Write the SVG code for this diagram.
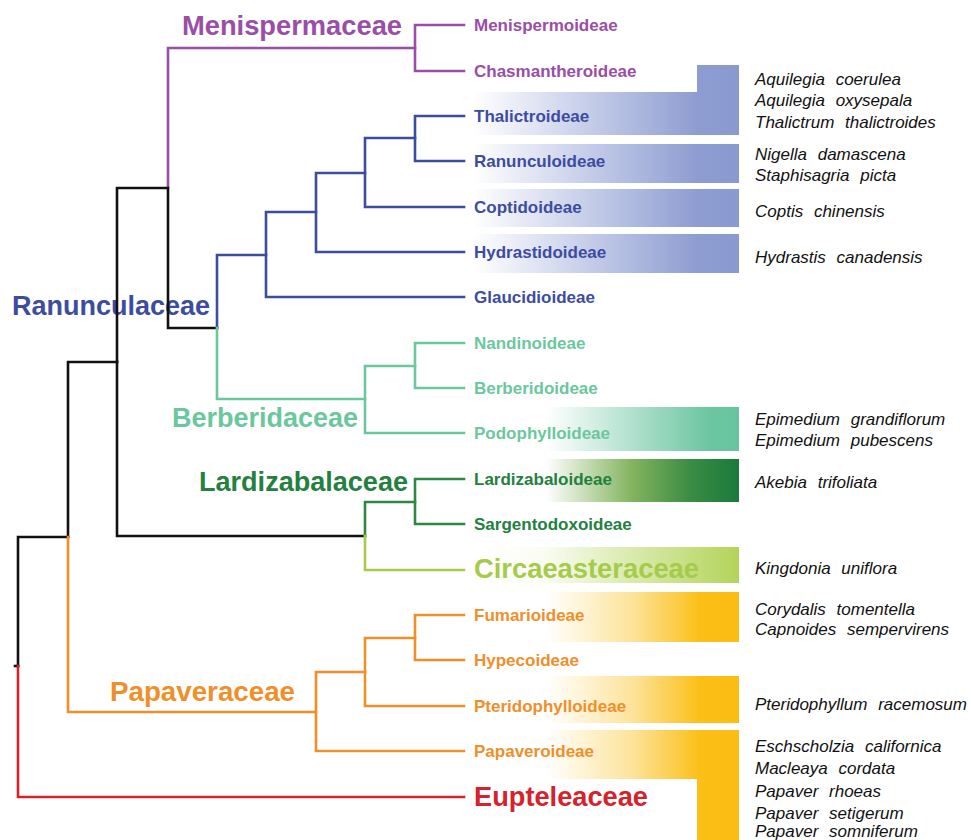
<svg xmlns="http://www.w3.org/2000/svg" width="971" height="840" viewBox="0 0 971 840">
<defs>
<linearGradient id="gBlue" gradientUnits="userSpaceOnUse" x1="474" y1="0" x2="739" y2="0">
<stop offset="0" stop-color="#ffffff"/><stop offset="0.5" stop-color="#bcc5e5"/><stop offset="0.85" stop-color="#8d9cd1"/><stop offset="1" stop-color="#8a99cf"/>
</linearGradient>
<linearGradient id="gPodo" gradientUnits="userSpaceOnUse" x1="546" y1="0" x2="739" y2="0">
<stop offset="0" stop-color="#ffffff"/><stop offset="0.85" stop-color="#6bc5a1"/><stop offset="1" stop-color="#68c4a0"/>
</linearGradient>
<linearGradient id="gLard" gradientUnits="userSpaceOnUse" x1="546" y1="0" x2="739" y2="0">
<stop offset="0" stop-color="#ffffff"/><stop offset="0.45" stop-color="#82b35e"/><stop offset="0.75" stop-color="#3a8c44"/><stop offset="1" stop-color="#1a7a3b"/>
</linearGradient>
<linearGradient id="gCirc" gradientUnits="userSpaceOnUse" x1="474" y1="0" x2="739" y2="0">
<stop offset="0" stop-color="#ffffff"/><stop offset="0.25" stop-color="#fbfdf4"/><stop offset="1" stop-color="#b3d45a"/>
</linearGradient>
<linearGradient id="gOrange" gradientUnits="userSpaceOnUse" x1="546" y1="0" x2="739" y2="0">
<stop offset="0" stop-color="#ffffff"/><stop offset="0.45" stop-color="#fde39a"/><stop offset="0.8" stop-color="#fbbf16"/><stop offset="1" stop-color="#fbbd12"/>
</linearGradient>
</defs>
<style>
.fam{font-family:"Liberation Sans",Arial,sans-serif;font-weight:bold;font-size:27px}
.sub{font-family:"Liberation Sans",Arial,sans-serif;font-weight:bold;font-size:17px}
.sp{font-family:"Liberation Sans",Arial,sans-serif;font-style:italic;font-size:17px;fill:#111;word-spacing:6px}
.ln{fill:none;stroke-width:2.6;stroke-linejoin:miter;stroke-linecap:square}
.pur{fill:#9a4ea5}.blu{fill:#3c4da0}.lgr{fill:#6bc79e}.dgr{fill:#23803f}.ygr{fill:#a6cb4c}.ora{fill:#f08f2a}.red{fill:#d4232c}
</style>
<g id="boxes">
<path d="M474,92 H697 V65 H739 V135 H474 Z" fill="url(#gBlue)"/>
<rect x="474" y="144" width="265" height="39" fill="url(#gBlue)"/>
<rect x="474" y="189" width="265" height="38" fill="url(#gBlue)"/>
<rect x="474" y="234" width="265" height="39" fill="url(#gBlue)"/>
<rect x="546" y="407" width="193" height="44" fill="url(#gPodo)"/>
<rect x="546" y="459" width="193" height="43" fill="url(#gLard)"/>
<rect x="474" y="547" width="265" height="36" fill="url(#gCirc)"/>
<rect x="546" y="592" width="193" height="50" fill="url(#gOrange)"/>
<rect x="546" y="676" width="193" height="47" fill="url(#gOrange)"/>
<path d="M546,730 H739 V840 H697 V779 H546 Z" fill="url(#gOrange)"/>
</g>
<g id="family-labels">
<text id="Menispermaceae" class="fam pur" x="182" y="35" textLength="220" lengthAdjust="spacingAndGlyphs">Menispermaceae</text>
<text id="Ranunculaceae" class="fam blu" x="12" y="315" textLength="198" lengthAdjust="spacingAndGlyphs">Ranunculaceae</text>
<text id="Berberidaceae" class="fam lgr" x="172" y="427" textLength="186" lengthAdjust="spacingAndGlyphs">Berberidaceae</text>
<text id="Lardizabalaceae" class="fam dgr" x="199" y="491" textLength="209" lengthAdjust="spacingAndGlyphs">Lardizabalaceae</text>
<text id="Papaveraceae" class="fam ora" x="110" y="701" textLength="185" lengthAdjust="spacingAndGlyphs">Papaveraceae</text>
</g>
<g id="connectors">
<g class="ln" stroke="#9a4ea5">
<path d="M168,188 V48 H415"/>
<path d="M464,25 H415 V71 H464"/>
</g>
<g class="ln" stroke="#111">
<path d="M117,362 V188 H168 V328 H217"/>
<path d="M117,362 V536 H365"/>
<path d="M68,537 V362 H117"/>
<path d="M18,666 V537 H68"/>
<path d="M15,666 H18"/>
</g>
<g class="ln" stroke="#3c4da0">
<path d="M217,328 V255 H266"/>
<path d="M464,297 H266 V212 H316"/>
<path d="M464,252 H316 V173 H365"/>
<path d="M464,207 H365 V138 H415"/>
<path d="M464,116 H415 V161 H464"/>
</g>
<g class="ln" stroke="#6bc79e">
<path d="M217,328 V399 H365"/>
<path d="M464,433 H365 V366 H415"/>
<path d="M464,343 H415 V388 H464"/>
</g>
<g class="ln" stroke="#2f8744">
<path d="M365,536 V502 H415"/>
<path d="M464,479 H415 V524 H464"/>
</g>
<g class="ln" stroke="#a6cb4c">
<path d="M365,536 V570 H464"/>
</g>
<g class="ln" stroke="#f08f2a">
<path d="M68,537 V712 H316"/>
<path d="M464,751 H316 V672 H365"/>
<path d="M464,706 H365 V638 H415"/>
<path d="M464,615 H415 V660 H464"/>
</g>
<g class="ln" stroke="#d4232c">
<path d="M18,666 V797 H464"/>
</g>
</g>
<g id="leaves">
<text id="Menispermoideae" class="sub pur" x="474" y="31">Menispermoideae</text>
<text id="Chasmantheroideae" class="sub pur" x="474" y="77">Chasmantheroideae</text>
<text id="Thalictroideae" class="sub blu" x="474" y="122">Thalictroideae</text>
<text id="Ranunculoideae" class="sub blu" x="474" y="167">Ranunculoideae</text>
<text id="Coptidoideae" class="sub blu" x="474" y="213">Coptidoideae</text>
<text id="Hydrastidoideae" class="sub blu" x="474" y="258">Hydrastidoideae</text>
<text id="Glaucidioideae" class="sub blu" x="474" y="303">Glaucidioideae</text>
<text id="Nandinoideae" class="sub lgr" x="474" y="349">Nandinoideae</text>
<text id="Berberidoideae" class="sub lgr" x="474" y="394">Berberidoideae</text>
<text id="Podophylloideae" class="sub lgr" x="474" y="439">Podophylloideae</text>
<text id="Lardizabaloideae" class="sub dgr" x="474" y="485">Lardizabaloideae</text>
<text id="Sargentodoxoideae" class="sub dgr" x="474" y="530">Sargentodoxoideae</text>
<text id="Circaeasteraceae" class="fam ygr" x="474" y="578" textLength="225" lengthAdjust="spacingAndGlyphs">Circaeasteraceae</text>
<text id="Fumarioideae" class="sub ora" x="474" y="621">Fumarioideae</text>
<text id="Hypecoideae" class="sub ora" x="474" y="666">Hypecoideae</text>
<text id="Pteridophylloideae" class="sub ora" x="474" y="712">Pteridophylloideae</text>
<text id="Papaveroideae" class="sub ora" x="474" y="757">Papaveroideae</text>
<text id="Eupteleaceae" class="fam red" x="474" y="806" textLength="174" lengthAdjust="spacingAndGlyphs">Eupteleaceae</text>
</g>
<g id="species">
<text class="sp" x="755" y="85">Aquilegia coerulea</text>
<text class="sp" x="755" y="106">Aquilegia oxysepala</text>
<text class="sp" x="755" y="128">Thalictrum thalictroides</text>
<text class="sp" x="755" y="160">Nigella damascena</text>
<text class="sp" x="755" y="181">Staphisagria picta</text>
<text class="sp" x="755" y="217">Coptis chinensis</text>
<text class="sp" x="755" y="263">Hydrastis canadensis</text>
<text class="sp" x="755" y="425">Epimedium grandiflorum</text>
<text class="sp" x="755" y="446">Epimedium pubescens</text>
<text class="sp" x="755" y="488">Akebia trifoliata</text>
<text class="sp" x="755" y="574">Kingdonia uniflora</text>
<text class="sp" x="755" y="615">Corydalis tomentella</text>
<text class="sp" x="755" y="635">Capnoides sempervirens</text>
<text class="sp" x="755" y="710">Pteridophyllum racemosum</text>
<text class="sp" x="755" y="752">Eschscholzia californica</text>
<text class="sp" x="755" y="774">Macleaya cordata</text>
<text class="sp" x="755" y="797">Papaver rhoeas</text>
<text class="sp" x="755" y="819">Papaver setigerum</text>
<text class="sp" x="755" y="837">Papaver somniferum</text>
</g>
</svg>
